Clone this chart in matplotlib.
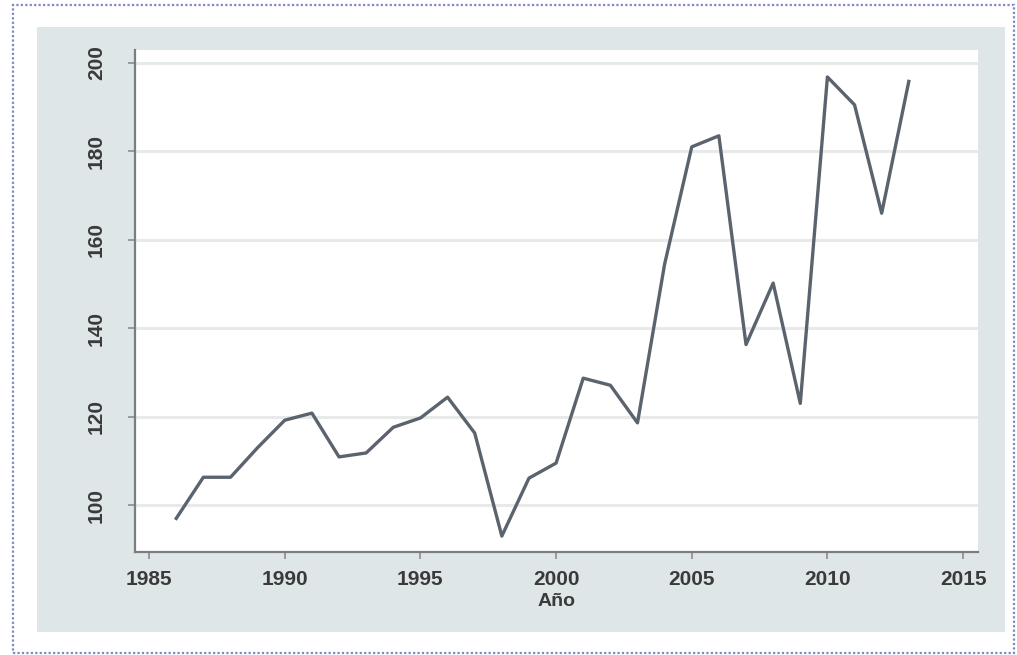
import matplotlib
matplotlib.use("Agg")
import matplotlib.pyplot as plt
from matplotlib.patches import Rectangle

years = list(range(1986, 2014))
values = [97.0, 106.3, 106.3, 113.0, 119.2, 120.8, 110.9, 111.8, 117.6, 119.7,
          124.4, 116.3, 93.0, 106.1, 109.5, 128.7, 127.1, 118.6, 154.5, 181.0,
          183.5, 136.3, 150.2, 123.0, 196.8, 190.5, 166.0, 195.8]
x_ticks = [1985, 1990, 1995, 2000, 2005, 2010, 2015]
y_ticks = [100, 120, 140, 160, 180, 200]
x_label = "Año"

W, H = 1017, 655
fig = plt.figure(figsize=(W / 100, H / 100), dpi=100)
fig.patch.set_facecolor("white")

def fx(px):
    return px / W

def fy(py):
    return 1 - py / H

# outer dotted border
fig.patches.append(Rectangle((fx(13), fy(653)), fx(1014) - fx(13), fy(5) - fy(653),
                             transform=fig.transFigure, fill=False,
                             edgecolor="#8088c4", linestyle=(0, (1, 1)), linewidth=1.6,
                             zorder=-2))
# gray graph region
fig.patches.append(Rectangle((fx(37), fy(632)), fx(1005) - fx(37), fy(27) - fy(632),
                             transform=fig.transFigure, facecolor="#dfe6e8",
                             edgecolor="none", zorder=-1))

ax = fig.add_axes([fx(135), fy(552), fx(978) - fx(135), fy(50) - fy(552)])
ax.set_zorder(2)
ax.set_facecolor("white")
ax.plot(years, values, color="#5a636e", linewidth=2.4, solid_joinstyle="round", zorder=3)

ax.set_xlim(1984.48, 2015.55)
ax.set_ylim(89.4, 202.9)
ax.set_xticks(x_ticks)
ax.set_yticks(y_ticks)
ax.grid(axis="y", color="#e8eaea", linewidth=2.2)
ax.grid(axis="x", visible=False)

for s in ["top", "right"]:
    ax.spines[s].set_visible(False)
for s in ["left", "bottom"]:
    ax.spines[s].set_color("#7a7e80")
    ax.spines[s].set_linewidth(1.6)

ax.tick_params(axis="both", direction="out", length=5, width=1.2, color="#8a8e90",
               labelcolor="#3a3a3a")
ax.tick_params(axis="x", pad=8)
ax.tick_params(axis="y", pad=16)
for lab in ax.get_xticklabels():
    lab.set_fontfamily("Liberation Sans")
    lab.set_fontweight("bold")
    lab.set_fontsize(15)
for lab in ax.get_yticklabels():
    lab.set_fontfamily("Liberation Sans")
    lab.set_fontweight("bold")
    lab.set_fontsize(15)
    lab.set_rotation(90)
    lab.set_verticalalignment("center")

ax.set_xlabel(x_label, fontfamily="Liberation Sans", fontweight="bold", fontsize=14,
              color="#3a3a3a", labelpad=3)

fig.savefig("out.png", dpi=100, facecolor=fig.get_facecolor())
